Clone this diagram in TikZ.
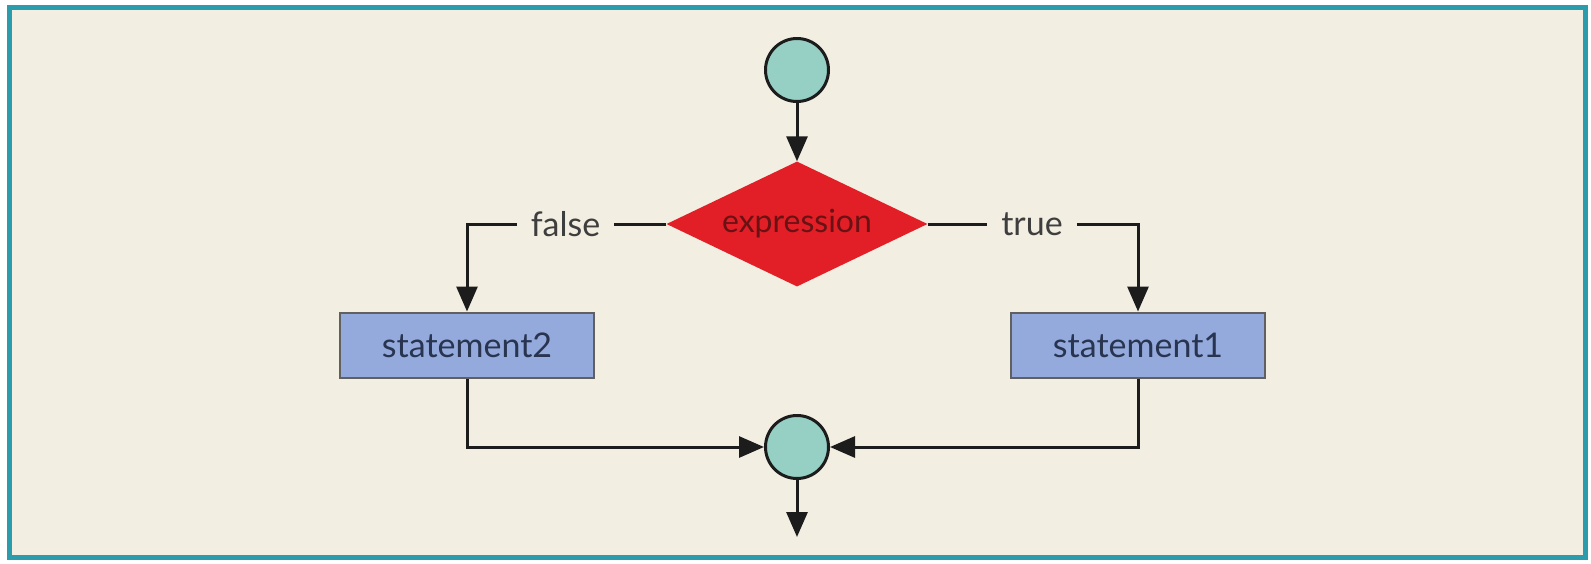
\documentclass[tikz,border=0pt]{standalone}
\usepackage{fontspec}
\setmainfont{Lato}
\usetikzlibrary{shapes.geometric,arrows.meta}
\definecolor{frameteal}{RGB}{42,156,172}
\definecolor{cream}{RGB}{242,238,226}
\definecolor{circfill}{RGB}{150,208,196}
\definecolor{diared}{RGB}{226,30,38}
\definecolor{boxblue}{RGB}{148,170,220}
\definecolor{boxtext}{RGB}{40,52,80}
\definecolor{exprtext}{RGB}{105,18,20}
\definecolor{linecol}{RGB}{28,28,28}
\tikzset{
  conn/.style={draw=linecol, line width=3pt},
  arr/.style={conn, -{Triangle[length=25pt,width=21pt]}},
  junction/.style={circle, draw=linecol, line width=3pt, fill=circfill, minimum size=63pt, inner sep=0pt},
  decision/.style={diamond, draw=none, fill=diared, minimum width=261pt, minimum height=125pt, inner sep=0pt, aspect=2.09, text=exprtext, font=\fontsize{32}{36}\selectfont},
  stmt/.style={rectangle, draw=linecol!70, line width=2pt, fill=boxblue, minimum width=254pt, minimum height=65pt, inner sep=0pt, text=boxtext, font=\fontsize{34}{40}\selectfont},
  branchlabel/.style={inner xsep=14pt, inner ysep=0pt, text=linecol!85, font=\fontsize{34}{40}\selectfont}
}
\begin{document}
\begin{tikzpicture}[x=1pt,y=1pt]
\useasboundingbox (0,0) rectangle (1591,-563);
\fill[white] (0,0) rectangle (1591,-563);
\draw[frameteal, line width=5pt, fill=cream] (9.5,-7.5) rectangle (1585.5,-557.5);

\node[junction] (start) at (797,-70) {};
\node[decision] (dia) at (797,-224) {expression};
\node[stmt] (s2) at (467,-345) {statement2};
\node[stmt] (s1) at (1138,-345) {statement1};
\node[junction] (end) at (797,-447) {};
\coordinate (exit) at (797,-537);

\node[branchlabel] (false) at (565.5,-224) {false};
\node[branchlabel] (true) at (1032,-224) {true};

\draw[arr] (start) -- (dia.north);
\draw[conn] (dia.west) -- (false.east);
\draw[arr] (false.west) -| (s2.north);
\draw[conn] (dia.east) -- (true.west);
\draw[arr] (true.east) -| (s1.north);
\draw[arr] (s2.south) |- (end.west);
\draw[arr] (s1.south) |- (end.east);
\draw[arr] (end) -- (exit);
\end{tikzpicture}
\end{document}
